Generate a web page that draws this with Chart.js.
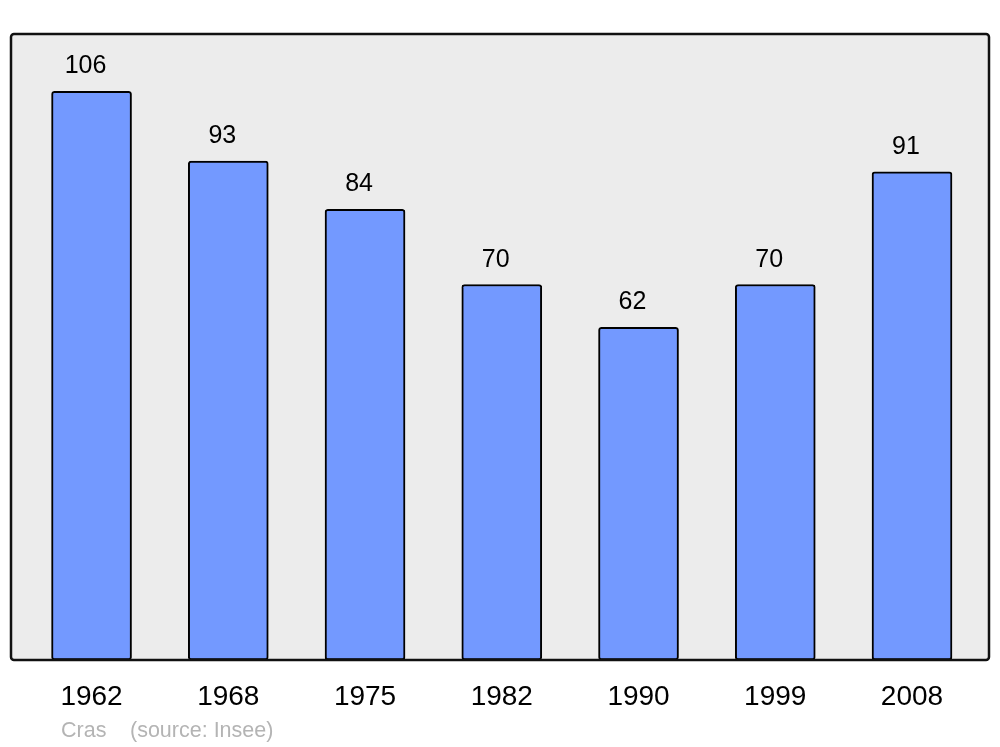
<!DOCTYPE html>
<html><head><meta charset="utf-8">
<script src="https://cdn.jsdelivr.net/npm/chart.js@4"></script>
<style>html,body{margin:0;padding:0;background:#fff}#w{width:1000px;height:747px;position:relative}</style>
</head><body><div id="w"><canvas id="c" width="1000" height="747"></canvas></div>
<script>
const years = ["1962","1968","1975","1982","1990","1999","2008"];
const population = [106, 93, 84, 70, 62, 70, 91];
const sourceLabel = "Cras";
const sourceNote = "(source: Insee)";

const FONT = "'Liberation Sans', Arial, sans-serif";

const bgPlugin = {
  id: 'bgbox',
  beforeDatasetsDraw(chart) {
    const {ctx, chartArea: a} = chart;
    ctx.save();
    ctx.fillStyle = '#ececec';
    ctx.beginPath();
    ctx.roundRect(a.left, a.top, a.right - a.left, a.bottom - a.top, 3);
    ctx.fill();
    ctx.restore();
  },
  afterDatasetsDraw(chart) {
    const {ctx, chartArea: a} = chart;
    ctx.save();
    ctx.strokeStyle = '#111';
    ctx.lineWidth = 2.5;
    ctx.beginPath();
    ctx.roundRect(a.left, a.top, a.right - a.left, a.bottom - a.top, 3);
    ctx.stroke();
    // value labels
    const meta = chart.getDatasetMeta(0);
    ctx.fillStyle = '#000';
    ctx.font = '25px ' + FONT;
    ctx.textAlign = 'center';
    ctx.textBaseline = 'alphabetic';
    meta.data.forEach((bar, i) => {
      ctx.fillText(String(population[i]), bar.x - 6, bar.y - 18);
    });
    // source
    ctx.fillStyle = '#b4b4b4';
    ctx.font = '21.5px ' + FONT;
    ctx.textAlign = 'left';
    ctx.fillText(sourceLabel, 61, 737);
    ctx.fillText(sourceNote, 130, 737);
    ctx.restore();
  }
};

new Chart(document.getElementById('c'), {
  type: 'bar',
  data: {
    datasets: [{
      data: population.map((v, i) => ({x: i, y: v})),
      backgroundColor: '#7399ff',
      borderColor: '#000',
      borderWidth: 2,
      borderRadius: 3,
      borderSkipped: false,
      barThickness: 80
    }]
  },
  options: {
    responsive: false,
    animation: false,
    devicePixelRatio: 1,
    layout: {padding: {left: 11, right: 11, top: 34, bottom: 27}},
    plugins: {legend: {display: false}, tooltip: {enabled: false}},
    scales: {
      x: {
        type: 'linear',
        offset: false,
        min: -0.589, max: 6.563,
        grid: {display: false, drawTicks: false, offset: false},
        border: {display: false},
        afterBuildTicks(s) { s.ticks = years.map((y, i) => ({value: i})); },
        afterFit(s) { s.height = 60; },
        ticks: {
          autoSkip: false,
          maxRotation: 0,
          padding: 20,
          color: '#000',
          font: {family: FONT, size: 28},
          callback: (v) => years[v]
        }
      },
      y: {
        display: false,
        min: 0, max: 116.7
      }
    }
  },
  plugins: [bgPlugin]
});
</script>
</body></html>
